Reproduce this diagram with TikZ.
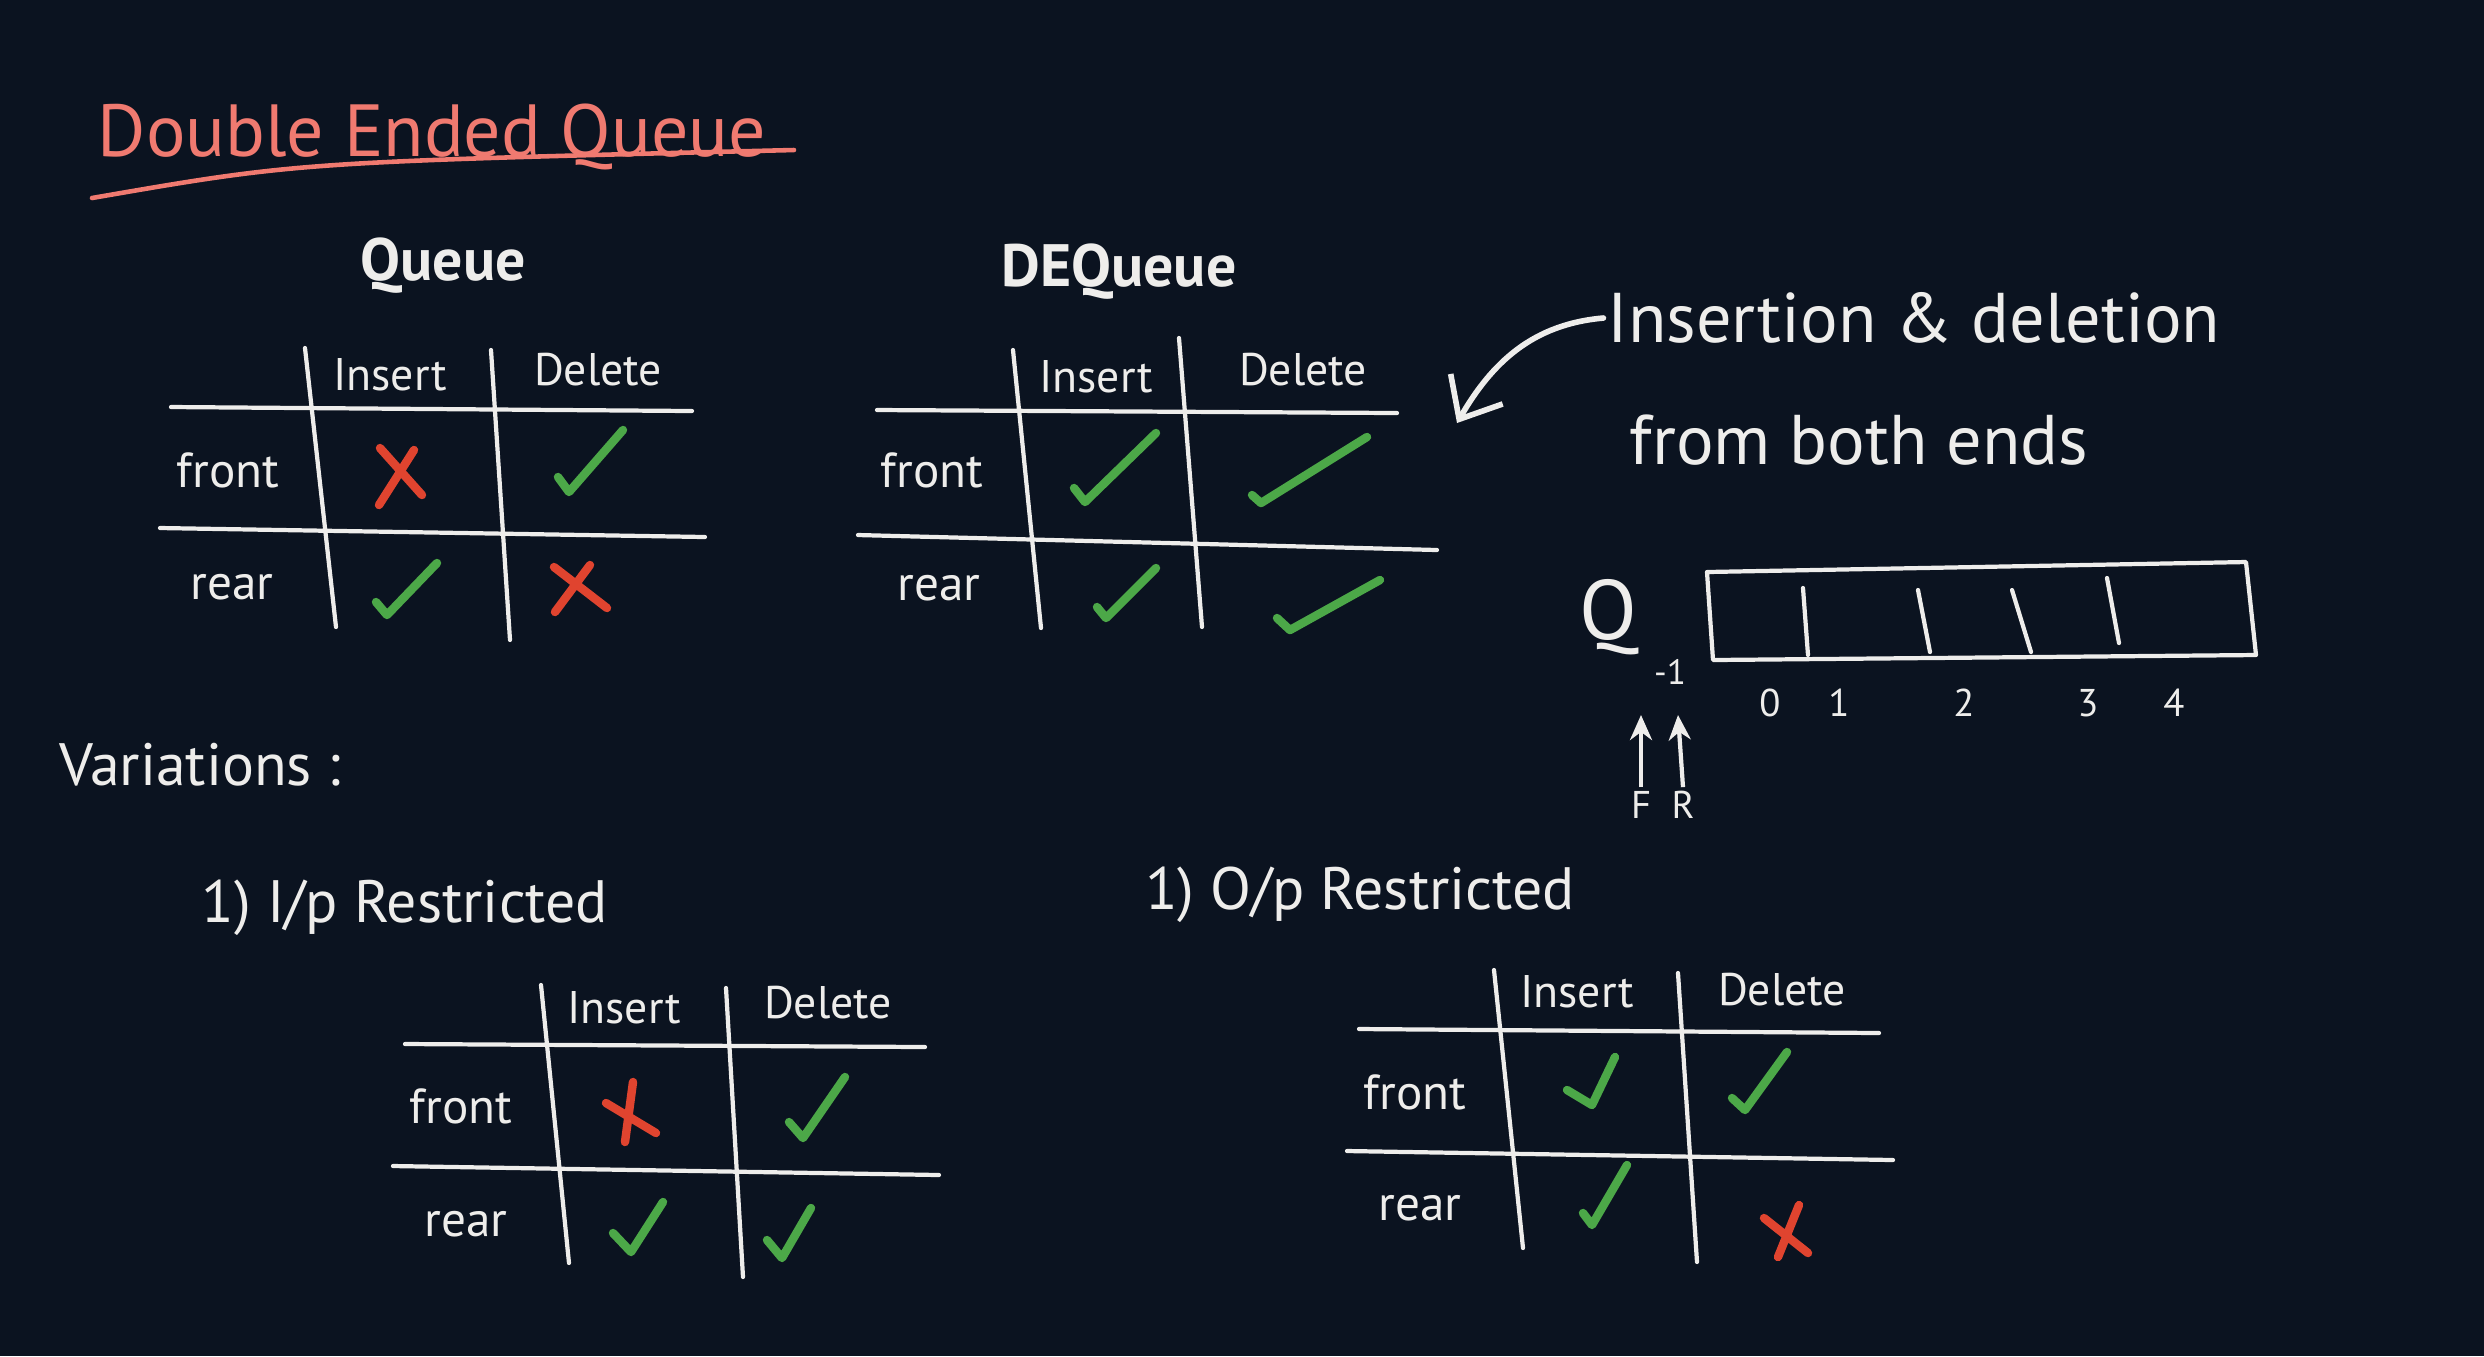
\documentclass[tikz,border=0pt]{standalone}
\usepackage{fontspec}
\setmainfont{PT Sans}
\usetikzlibrary{arrows.meta}
\definecolor{board}{RGB}{11,19,32}
\definecolor{chalk}{RGB}{238,237,235}
\definecolor{salmon}{RGB}{240,122,112}
\definecolor{okgreen}{RGB}{76,168,72}
\definecolor{nored}{RGB}{224,68,47}

\begin{document}
\begin{tikzpicture}[x=0.01cm,y=-0.01cm,
  hand/.style={text=chalk,inner sep=1pt,font=\fontsize{14}{16}\selectfont},
  head/.style={hand,font=\fontsize{13}{15}\selectfont},
  big/.style={hand,font=\fontsize{20}{24}\selectfont},
  tabline/.style={draw=chalk,line width=1.2pt,line cap=round},
  okmark/.style={draw=okgreen,line width=2.4pt,line cap=round,line join=round},
  nomark/.style={draw=nored,line width=2.4pt,line cap=round}]
  \fill[board] (0,0) rectangle (2484,1356);

  % title
  \node (title) at (97,156) [anchor=base west,text=salmon,inner sep=0pt,font=\fontsize{21}{24}\selectfont] {Double Ended Queue};
  \draw[salmon,line width=1.3pt,line cap=round] (92,198) .. controls (300,162) .. (794,150);

  % plain queue
  \node (qname) at (443,266) [hand,font=\bfseries\fontsize{17}{20}\selectfont] {Queue};
  \node (qins) at (390,375) [head] {Insert};
  \node (qdel) at (598,370) [head] {Delete};
  \node (qfront) at (228,470) [hand] {front};
  \node (qrear) at (232,587) [hand] {rear};
  \draw[tabline] (305,348) -- (336,627)  (491,350) -- (510,640)
    (171,407) -- (692,411)  (160,528) -- (705,537);
  \draw[nomark] (380,448) -- (422,495)  (414,450) -- (379,505);
  \draw[okmark] (558,477) -- (569,492) -- (623,430);
  \draw[okmark] (376,602) -- (387,615) -- (437,563);
  \draw[nomark] (554,567) -- (607,608)  (590,565) -- (555,612);

  % double ended queue
  \node (dname) at (1119,272) [hand,font=\bfseries\fontsize{17}{20}\selectfont] {DEQueue};
  \node (dins) at (1096,377) [head] {Insert};
  \node (ddel) at (1303,370) [head] {Delete};
  \node (dfront) at (932,470) [hand] {front};
  \node (drear) at (939,588) [hand] {rear};
  \draw[tabline] (1013,350) -- (1041,628)  (1179,338) -- (1202,627)
    (877,410) -- (1397,413)  (858,535) -- (1437,550);
  \draw[okmark] (1074,488) -- (1085,502) -- (1156,433);
  \draw[okmark] (1252,495) -- (1261,503) -- (1367,437);
  \draw[okmark] (1097,607) -- (1106,618) -- (1156,568);
  \draw[okmark] (1277,618) -- (1290,630) -- (1380,580);

  % note
  \node (note1) at (1914,318) [big] {Insertion \& deletion};
  \node (note2) at (1859,440) [big] {from both ends};
  \coordinate (dtip) at (1457,423);
  \draw[chalk,line width=1.6pt,line cap=round,-{Straight Barb[length=3.5mm,width=6mm]}]
    (note1.west) to[out=185,in=60] (dtip);

  % array
  \node (qarr) at (1608,617) [hand,font=\fontsize{24}{28}\selectfont] {Q};
  \draw[tabline,line join=round] (1707,572) -- (2246,562) -- (2256,655) -- (1713,660) -- cycle;
  \draw[tabline] (1803,588) -- (1808,655)  (1918,590) -- (1930,652)
    (2012,590) -- (2031,652)  (2107,578) -- (2119,643);
  \node (im1) at (1670,672) [hand,font=\fontsize{10}{12}\selectfont] {-1};
  \foreach \i/\x in {0/1770,1/1839,2/1964,3/2088,4/2174}
    \node (i\i) at (\x,703) [hand,font=\fontsize{11}{13}\selectfont] {\i};
  \node (fptr) at (1641,805) [hand,font=\fontsize{11}{13}\selectfont] {F};
  \node (rptr) at (1683,805) [hand,font=\fontsize{11}{13}\selectfont] {R};
  \coordinate (ftip) at (1641,715);
  \coordinate (rtip) at (1678,715);
  \draw[chalk,line width=1.2pt,-{Stealth[length=2.5mm,width=2.2mm]}] (fptr.north) -- (ftip);
  \draw[chalk,line width=1.2pt,-{Stealth[length=2.5mm,width=2.2mm]}] (rptr.north) -- (rtip);

  % variations
  \node (vars) at (200,765) [hand,font=\fontsize{17}{20}\selectfont] {Variations :};
  \node (ipr) at (405,908) [hand,font=\fontsize{17}{20}\selectfont] {1) I/p Restricted};
  \node (opr) at (1360,895) [hand,font=\fontsize{17}{20}\selectfont] {1) O/p Restricted};

  % input restricted
  \node (iins) at (624,1008) [head] {Insert};
  \node (idel) at (828,1003) [head] {Delete};
  \node (ifront) at (461,1106) [hand] {front};
  \node (irear) at (466,1224) [hand] {rear};
  \draw[tabline] (541,985) -- (569,1263)  (726,988) -- (743,1277)
    (405,1044) -- (925,1047)  (393,1166) -- (939,1175);
  \draw[nomark] (606,1103) -- (656,1133)  (633,1082) -- (625,1142);
  \draw[okmark] (789,1122) -- (803,1138) -- (845,1077);
  \draw[okmark] (613,1233) -- (631,1252) -- (663,1202);
  \draw[okmark] (767,1240) -- (782,1258) -- (811,1208);

  % output restricted
  \node (oins) at (1577,992) [head] {Insert};
  \node (odel) at (1782,990) [head] {Delete};
  \node (ofront) at (1415,1092) [hand] {front};
  \node (orear) at (1420,1208) [hand] {rear};
  \draw[tabline] (1494,970) -- (1523,1248)  (1678,973) -- (1697,1262)
    (1359,1029) -- (1879,1033)  (1347,1151) -- (1893,1160);
  \draw[okmark] (1567,1090) -- (1592,1105) -- (1615,1057);
  \draw[okmark] (1732,1098) -- (1745,1110) -- (1787,1052);
  \draw[okmark] (1583,1213) -- (1592,1225) -- (1627,1165);
  \draw[nomark] (1764,1218) -- (1808,1253)  (1799,1205) -- (1778,1257);
\end{tikzpicture}
\end{document}
